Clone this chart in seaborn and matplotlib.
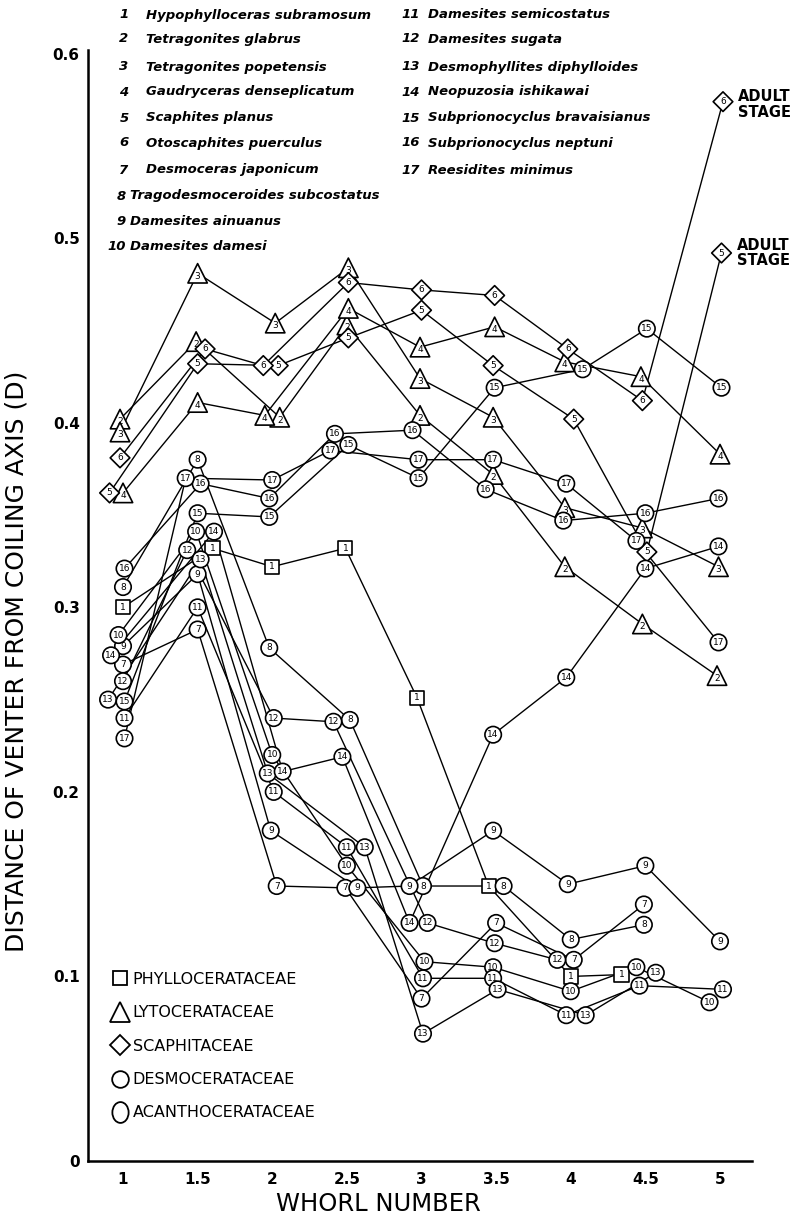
import numpy as np
import pandas as pd
import matplotlib
matplotlib.use("Agg")
import matplotlib.pyplot as plt
import seaborn as sns
from matplotlib.lines import Line2D
from matplotlib.path import Path

# ---------------- data ----------------
species_names = [
    "Hypophylloceras subramosum", "Tetragonites glabrus", "Tetragonites popetensis",
    "Gaudryceras denseplicatum", "Scaphites planus", "Otoscaphites puerculus",
    "Desmoceras japonicum", "Tragodesmoceroides subcostatus", "Damesites ainuanus",
    "Damesites damesi", "Damesites semicostatus", "Damesites sugata",
    "Desmophyllites diphylloides", "Neopuzosia ishikawai", "Subprionocyclus bravaisianus",
    "Subprionocyclus neptuni", "Reesidites minimus",
]
family_labels = ["PHYLLOCERATACEAE", "LYTOCERATACEAE", "SCAPHITACEAE",
                 "DESMOCERATACEAE", "ACANTHOCERATACEAE"]
species_family = ["PHYLLOCERATACEAE", "LYTOCERATACEAE", "LYTOCERATACEAE", "LYTOCERATACEAE",
                  "SCAPHITACEAE", "SCAPHITACEAE",
                  "DESMOCERATACEAE", "DESMOCERATACEAE", "DESMOCERATACEAE", "DESMOCERATACEAE",
                  "DESMOCERATACEAE", "DESMOCERATACEAE", "DESMOCERATACEAE", "DESMOCERATACEAE",
                  "ACANTHOCERATACEAE", "ACANTHOCERATACEAE", "ACANTHOCERATACEAE"]

sp01_x = [1.00, 1.60, 2.00, 2.49, 2.97, 3.45, 4.00, 4.34]
sp01_y = [0.300, 0.332, 0.322, 0.332, 0.251, 0.149, 0.100, 0.101]
sp02_x = [0.98, 1.49, 2.05, 2.50, 2.99, 3.48, 3.96, 4.48, 4.98]
sp02_y = [0.402, 0.444, 0.403, 0.453, 0.404, 0.372, 0.322, 0.291, 0.263]
sp03_x = [0.98, 1.50, 2.02, 2.51, 2.99, 3.48, 3.96, 4.48, 4.99]
sp03_y = [0.395, 0.481, 0.454, 0.484, 0.424, 0.403, 0.354, 0.343, 0.322]
sp04_x = [1.00, 1.50, 1.95, 2.51, 2.99, 3.49, 3.96, 4.47, 5.00]
sp04_y = [0.362, 0.411, 0.404, 0.462, 0.441, 0.452, 0.433, 0.425, 0.383]
sp05_x = [0.91, 1.50, 2.04, 2.51, 3.00, 3.48, 4.02, 4.51, 5.01]
sp05_y = [0.362, 0.432, 0.431, 0.446, 0.461, 0.431, 0.402, 0.330, 0.492]
sp06_x = [0.98, 1.55, 1.94, 2.51, 3.00, 3.49, 3.98, 4.48, 5.02]
sp06_y = [0.381, 0.440, 0.431, 0.476, 0.472, 0.469, 0.440, 0.412, 0.574]
sp07_x = [1.00, 1.50, 2.03, 2.49, 3.00, 3.50, 4.02, 4.49]
sp07_y = [0.269, 0.288, 0.149, 0.148, 0.088, 0.129, 0.109, 0.139]
sp08_x = [1.00, 1.50, 1.98, 2.52, 3.01, 3.55, 4.00, 4.49]
sp08_y = [0.311, 0.380, 0.278, 0.239, 0.149, 0.149, 0.120, 0.128]
sp09_x = [1.00, 1.50, 1.99, 2.57, 2.92, 3.48, 3.98, 4.50, 5.00]
sp09_y = [0.279, 0.318, 0.179, 0.148, 0.149, 0.179, 0.150, 0.160, 0.119]
sp10_x = [0.97, 1.49, 2.00, 2.50, 3.02, 3.48, 4.00, 4.44, 4.93]
sp10_y = [0.285, 0.341, 0.220, 0.160, 0.108, 0.105, 0.092, 0.105, 0.086]
sp11_x = [1.01, 1.50, 2.01, 2.50, 3.01, 3.48, 3.97, 4.46, 5.02]
sp11_y = [0.240, 0.300, 0.200, 0.170, 0.099, 0.099, 0.079, 0.095, 0.093]
sp12_x = [1.00, 1.43, 2.01, 2.41, 3.04, 3.49, 3.91]
sp12_y = [0.260, 0.331, 0.240, 0.238, 0.129, 0.118, 0.109]
sp13_x = [0.90, 1.52, 1.97, 2.62, 3.01, 3.51, 4.10, 4.57]
sp13_y = [0.250, 0.326, 0.210, 0.170, 0.069, 0.093, 0.079, 0.102]
sp14_x = [0.92, 1.61, 2.07, 2.47, 2.92, 3.48, 3.97, 4.50, 4.99]
sp14_y = [0.274, 0.341, 0.211, 0.219, 0.129, 0.231, 0.262, 0.321, 0.333]
sp15_x = [1.01, 1.50, 1.98, 2.51, 2.98, 3.49, 4.08, 4.51, 5.01]
sp15_y = [0.249, 0.351, 0.349, 0.388, 0.370, 0.419, 0.429, 0.451, 0.419]
sp16_x = [1.01, 1.52, 1.98, 2.42, 2.94, 3.43, 3.95, 4.50, 4.99]
sp16_y = [0.321, 0.367, 0.359, 0.394, 0.396, 0.364, 0.347, 0.351, 0.359]
sp17_x = [1.01, 1.42, 2.00, 2.39, 2.98, 3.48, 3.97, 4.44, 4.99]
sp17_y = [0.229, 0.370, 0.369, 0.385, 0.380, 0.380, 0.367, 0.336, 0.281]

x_ticks = [1, 1.5, 2, 2.5, 3, 3.5, 4, 4.5, 5]
x_tick_labels = ["1", "1.5", "2", "2.5", "3", "3.5", "4", "4.5", "5"]
y_ticks = [0, 0.1, 0.2, 0.3, 0.4, 0.5, 0.6]
y_tick_labels = ["0", "0.1", "0.2", "0.3", "0.4", "0.5", "0.6"]

all_x = [sp01_x, sp02_x, sp03_x, sp04_x, sp05_x, sp06_x, sp07_x, sp08_x, sp09_x,
         sp10_x, sp11_x, sp12_x, sp13_x, sp14_x, sp15_x, sp16_x, sp17_x]
all_y = [sp01_y, sp02_y, sp03_y, sp04_y, sp05_y, sp06_y, sp07_y, sp08_y, sp09_y,
         sp10_y, sp11_y, sp12_y, sp13_y, sp14_y, sp15_y, sp16_y, sp17_y]

rows = []
for i, (xs, ys) in enumerate(zip(all_x, all_y)):
    for order, (xv, yv) in enumerate(zip(xs, ys)):
        rows.append({"species": i + 1, "order": order, "x": xv, "y": yv,
                     "family": species_family[i]})
df = pd.DataFrame(rows)

# ---------------- style ----------------
sns.set_style("white")
plt.rcParams["font.family"] = ["DejaVu Sans"]
plt.rcParams.update({"text.color": "black", "axes.labelcolor": "black",
                     "xtick.color": "black", "ytick.color": "black",
                     "axes.edgecolor": "black"})

W, H = 805, 1216
fig = plt.figure(figsize=(W / 100, H / 100), dpi=100)
ax_left, ax_right, ax_top, ax_bottom = 88, 752, 50, 1161
ax = fig.add_axes([ax_left / W, 1 - ax_bottom / H, (ax_right - ax_left) / W,
                   (ax_bottom - ax_top) / H])

marker_map = {"PHYLLOCERATACEAE": "s", "LYTOCERATACEAE": "^", "SCAPHITACEAE": "D",
              "DESMOCERATACEAE": "o", "ACANTHOCERATACEAE": "o"}
size_map = {"PHYLLOCERATACEAE": 105, "LYTOCERATACEAE": 195, "SCAPHITACEAE": 100,
            "DESMOCERATACEAE": 140, "ACANTHOCERATACEAE": 140}

sns.lineplot(data=df, x="x", y="y", units="species", estimator=None, sort=False,
             color="black", linewidth=1.0, zorder=2, legend=False, ax=ax)
sns.scatterplot(data=df, x="x", y="y", style="family", markers=marker_map,
                size="family", sizes=size_map, color="white", edgecolor="black",
                linewidth=1.2, zorder=3, legend=False, ax=ax)

for _, r in df.iterrows():
    dy = -2.0 if r["family"] == "LYTOCERATACEAE" else 0.0
    ax.annotate(str(int(r["species"])), (r["x"], r["y"]), xytext=(0, dy),
                textcoords="offset points", ha="center", va="center",
                fontsize=6.5, color="black", zorder=4)

# adult stage labels
ax.annotate("ADULT\nSTAGE", (sp06_x[-1], sp06_y[-1]), xytext=(11, -2),
            textcoords="offset points", ha="left", va="center", fontsize=10.5,
            fontweight="bold", linespacing=1.05, annotation_clip=False)
ax.annotate("ADULT\nSTAGE", (sp05_x[-1], sp05_y[-1]), xytext=(11, 0),
            textcoords="offset points", ha="left", va="center", fontsize=10.5,
            fontweight="bold", linespacing=1.05, annotation_clip=False)

# axes
px_per_unit = 149.25
ax.set_xlim(1 + (ax_left - 123) / px_per_unit, 1 + (ax_right - 123) / px_per_unit)
ax.set_ylim(0, 0.602)
ax.set_xticks(x_ticks)
ax.set_xticklabels(x_tick_labels, fontweight="bold", fontsize=11)
ax.set_yticks(y_ticks)
ax.set_yticklabels(y_tick_labels, fontweight="bold", fontsize=11)
ax.tick_params(axis="both", direction="in", length=6, width=1.5, color="black")
ax.tick_params(axis="x", pad=8)
ax.tick_params(axis="y", pad=6)
for s in ["top", "right"]:
    ax.spines[s].set_visible(False)
for s in ["left", "bottom"]:
    ax.spines[s].set_linewidth(1.8)
    ax.spines[s].set_color("black")

ax.set_xlabel("WHORL NUMBER", fontsize=17.5)
ax.xaxis.set_label_coords((378 - ax_left) / (ax_right - ax_left),
                          (ax_bottom - 1204) / (ax_bottom - ax_top))
ax.xaxis.label.set_va("center")
ax.set_ylabel("DISTANCE OF VENTER FROM COILING AXIS (D)", fontsize=18)
ax.yaxis.set_label_coords((17 - ax_left) / (ax_right - ax_left),
                          (ax_bottom - 661) / (ax_bottom - ax_top))
ax.yaxis.label.set_va("center")

# family legend
uc = Path.unit_circle()
ellipse = Path(uc.vertices * np.array([0.78, 1.0]), uc.codes)
handles = [
    Line2D([], [], ls="", marker="s", ms=10.5, mfc="white", mec="black", mew=1.3),
    Line2D([], [], ls="", marker="^", ms=14, mfc="white", mec="black", mew=1.3),
    Line2D([], [], ls="", marker="D", ms=10, mfc="white", mec="black", mew=1.3),
    Line2D([], [], ls="", marker="o", ms=12, mfc="white", mec="black", mew=1.3),
    Line2D([], [], ls="", marker=ellipse, ms=15, mfc="white", mec="black", mew=1.3),
]
ax.legend(handles, family_labels, loc="upper left",
          bbox_to_anchor=((112 - ax_left) / (ax_right - ax_left),
                          (ax_bottom - 972) / (ax_bottom - ax_top)),
          frameon=False, handlelength=1.0, handletextpad=0.3, labelspacing=1.15,
          borderpad=0, borderaxespad=0, fontsize=11.5)

# species key at the top
row_y = [15, 39, 67, 92, 118, 143, 170, 196, 221, 246]
for i in range(10):
    n = i + 1
    name_x = 146 if n <= 7 else 130
    num_x = 124 if n <= 7 else (121 if n <= 9 else 117)
    fig.text(num_x / W, 1 - row_y[i] / H, str(n), ha="center", va="center",
             fontsize=9.5, fontweight="bold", fontstyle="italic")
    fig.text(name_x / W, 1 - row_y[i] / H, species_names[i], ha="left", va="center",
             fontsize=9.5, fontweight="bold", fontstyle="italic")
for i in range(10, 17):
    n = i + 1
    fig.text(411 / W, 1 - row_y[i - 10] / H, str(n), ha="center", va="center",
             fontsize=9.5, fontweight="bold", fontstyle="italic")
    fig.text(428 / W, 1 - row_y[i - 10] / H, species_names[i], ha="left", va="center",
             fontsize=9.5, fontweight="bold", fontstyle="italic")

fig.savefig("out.png", dpi=100, facecolor="white")
